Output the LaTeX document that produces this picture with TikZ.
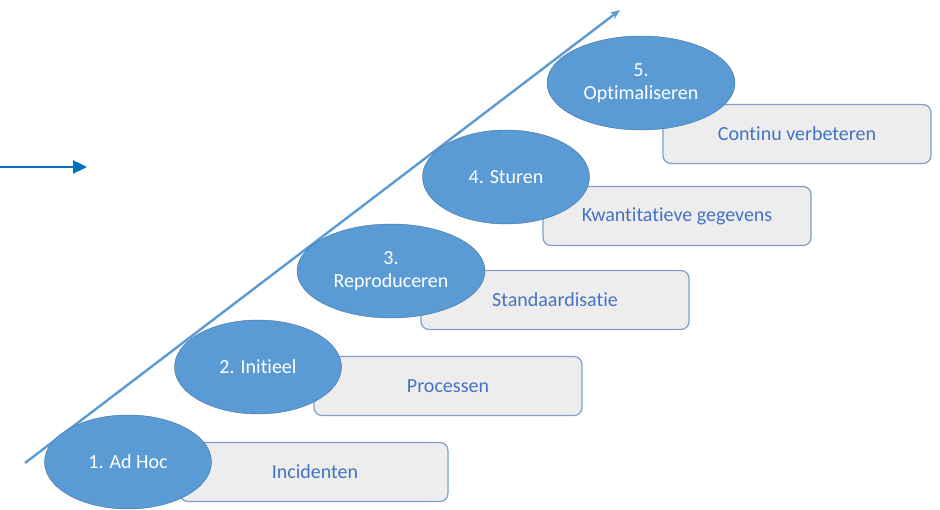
\documentclass[tikz,border=0pt]{standalone}
\usepackage{fontspec}
\setmainfont{Carlito}[Ligatures=CommonOff]
\usetikzlibrary{shapes.geometric,arrows.meta}
\definecolor{stapblauw}{HTML}{5B9BD5}
\definecolor{staprand}{HTML}{41719C}
\definecolor{vakgrijs}{HTML}{EDEDED}
\definecolor{vakrand}{HTML}{7F9FC8}
\definecolor{vaktekst}{HTML}{4472C4}
\definecolor{pijlblauw}{HTML}{0070C0}
\tikzset{
	stap/.style={ellipse, draw=staprand, fill=stapblauw, text=white, inner sep=0pt, minimum width=167, minimum height=94, align=center, font=\fontsize{20}{23}\selectfont},
	vak/.style={rectangle, rounded corners=8, draw=vakrand, line width=1.2pt, fill=vakgrijs, text=vaktekst, minimum width=268, minimum height=59, font=\fontsize{20}{23}\selectfont}
}

\begin{document}
\begin{tikzpicture}[x=1pt, y=-1pt]
			%%%%% START %%%%%
			\useasboundingbox (0, 0) rectangle (940, 510);
			
			\coordinate (trapvoet) at (25, 463);
			\coordinate (traptop) at (620, 10);
			\draw[line width=2.4pt, color=stapblauw, -{Stealth[length=10pt, width=8pt]}] (trapvoet) -- (traptop);
			
			\coordinate (pijlbegin) at (0, 167);
			\coordinate (pijleind) at (87, 167);
			\draw[line width=2.4pt, color=pijlblauw, -{Triangle[length=14pt, width=13pt]}] (pijlbegin) -- (pijleind);
			
			\node[vak] (vak1) at (314, 472) {\hspace*{2pt}Incidenten};
			\node[vak] (vak2) at (448, 386) {Processen};
			\node[vak] (vak3) at (555, 300) {Standaardisatie};
			\node[vak] (vak4) at (677, 216) {Kwantitatieve gegevens};
			\node[vak] (vak5) at (797, 134) {Continu verbeteren};
			
			\node[stap] (stap1) at (128, 462) {1. Ad Hoc};
			\node[stap] (stap2) at (258, 367) {2. Initieel};
			\node[stap, minimum width=188] (stap3) at (391, 271) {3.\\Reproduceren};
			\node[stap] (stap4) at (506, 177) {4. Sturen};
			\node[stap, minimum width=188] (stap5) at (641, 83) {5.\\Optimaliseren};
			
			%%%%% END %%%%%
\end{tikzpicture}
\end{document}
